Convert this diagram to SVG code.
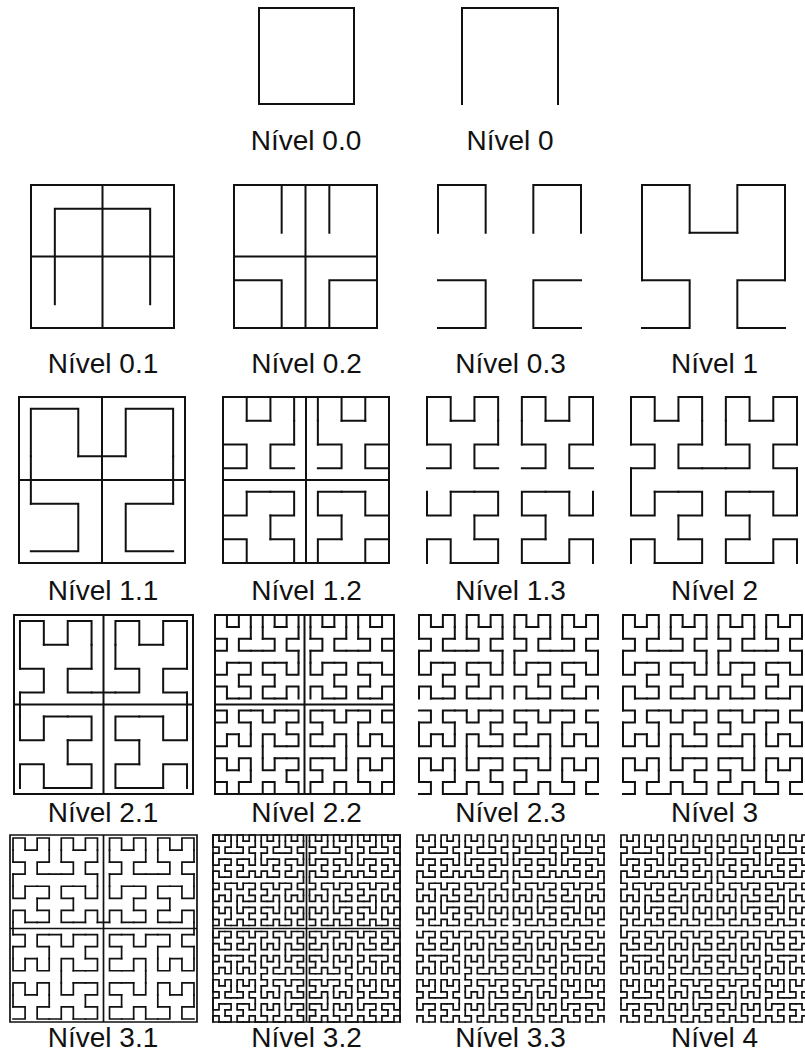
<svg xmlns="http://www.w3.org/2000/svg" width="805" height="1055" viewBox="0 0 805 1055">
<style>
.lbl{font-family:"Liberation Sans",Arial,sans-serif;font-size:28px;fill:#111;text-anchor:middle}
.ln{fill:none;stroke:#111;stroke-linecap:square;stroke-linejoin:miter}
</style>
<defs>
<path id="h1" d="M0 0V1H1V0"/>
<g id="q2">
<use href="#h1" transform="matrix(0 1 1 0 0 0)"/>
<use href="#h1" transform="translate(0 2)"/>
<use href="#h1" transform="translate(2 2)"/>
<use href="#h1" transform="matrix(0 -1 -1 0 3 1)"/>
</g>
<g id="h2"><use href="#q2"/><path d="M0 1V2M1 2H2M3 2V1"/></g>
<g id="q3">
<use href="#h2" transform="matrix(0 1 1 0 0 0)"/>
<use href="#h2" transform="translate(0 4)"/>
<use href="#h2" transform="translate(4 4)"/>
<use href="#h2" transform="matrix(0 -1 -1 0 7 3)"/>
</g>
<g id="h3"><use href="#q3"/><path d="M0 3V4M3 4H4M7 4V3"/></g>
<g id="q4">
<use href="#h3" transform="matrix(0 1 1 0 0 0)"/>
<use href="#h3" transform="translate(0 8)"/>
<use href="#h3" transform="translate(8 8)"/>
<use href="#h3" transform="matrix(0 -1 -1 0 15 7)"/>
</g>
<g id="h4"><use href="#q4"/><path d="M0 7V8M7 8H8M15 8V7"/></g>
<g id="q5">
<use href="#h4" transform="matrix(0 1 1 0 0 0)"/>
<use href="#h4" transform="translate(0 16)"/>
<use href="#h4" transform="translate(16 16)"/>
<use href="#h4" transform="matrix(0 -1 -1 0 31 15)"/>
</g>
<g id="h5"><use href="#q5"/><path d="M0 15V16M15 16H16M31 16V15"/></g>
<path id="fc4" d="M0 0H3V3H0ZM1.5 0V3M0 1.5H3"/>
<path id="fc8" d="M0 0H7V7H0ZM3.5 0V7M0 3.5H7"/>
<path id="fc16" d="M0 0H15V15H0ZM7.5 0V15M0 7.5H15"/>
<path id="fc32" d="M0 0H31V31H0ZM15.5 0V31M0 15.5H31"/>
</defs>
<rect width="805" height="1055" fill="#fff"/>

<g id="nivel-0-0"><rect class="ln" x="259" y="8" width="95" height="96" stroke-width="2"/><text class="lbl" x="306" y="150">Nível 0.0</text></g>
<g id="nivel-0"><path class="ln" d="M462 104V8H558V104" stroke-width="2"/><text class="lbl" x="510" y="150">Nível 0</text></g>

<g id="nivel-0-1"><g class="ln" transform="translate(31 328) scale(47.667 -47.667)" stroke-width="0.042"><use href="#fc4"/><use href="#h1" transform="translate(.5 .5) scale(2)" stroke-width="0.021"/></g><text class="lbl" x="103" y="373">Nível 0.1</text></g>
<g id="nivel-0-2"><g class="ln" transform="translate(234 328) scale(47.667 -47.667)" stroke-width="0.042"><use href="#fc4"/><use href="#q2"/></g><text class="lbl" x="306.5" y="373">Nível 0.2</text></g>
<g id="nivel-0-3"><g class="ln" transform="translate(438 328) scale(47.667 -47.667)" stroke-width="0.042"><use href="#q2"/></g><text class="lbl" x="510.5" y="373">Nível 0.3</text></g>
<g id="nivel-1"><g class="ln" transform="translate(642 328) scale(47.667 -47.667)" stroke-width="0.042"><use href="#h2"/></g><text class="lbl" x="714.5" y="373">Nível 1</text></g>

<g id="nivel-1-1"><g class="ln" transform="translate(19 563) scale(23.714 -23.714)" stroke-width="0.0843"><use href="#fc8"/><use href="#h2" transform="translate(.5 .5) scale(2)" stroke-width="0.0422"/></g><text class="lbl" x="103" y="600">Nível 1.1</text></g>
<g id="nivel-1-2"><g class="ln" transform="translate(223 563) scale(23.714 -23.714)" stroke-width="0.0843"><use href="#fc8"/><use href="#q3"/></g><text class="lbl" x="306.5" y="600">Nível 1.2</text></g>
<g id="nivel-1-3"><g class="ln" transform="translate(427 563) scale(23.714 -23.714)" stroke-width="0.0843"><use href="#q3"/></g><text class="lbl" x="510.5" y="600">Nível 1.3</text></g>
<g id="nivel-2"><g class="ln" transform="translate(631 563) scale(23.714 -23.714)" stroke-width="0.0843"><use href="#h3"/></g><text class="lbl" x="714.5" y="600">Nível 2</text></g>

<g id="nivel-2-1"><g class="ln" transform="translate(14 794) scale(11.933 -11.933)" stroke-width="0.1676"><use href="#fc16"/><use href="#h3" transform="translate(.5 .5) scale(2)" stroke-width="0.0838"/></g><text class="lbl" x="103" y="822">Nível 2.1</text></g>
<g id="nivel-2-2"><g class="ln" transform="translate(215 794) scale(11.933 -11.933)" stroke-width="0.1676"><use href="#fc16"/><use href="#q4"/></g><text class="lbl" x="306.5" y="822">Nível 2.2</text></g>
<g id="nivel-2-3"><g class="ln" transform="translate(419 794) scale(11.933 -11.933)" stroke-width="0.1676"><use href="#q4"/></g><text class="lbl" x="510.5" y="822">Nível 2.3</text></g>
<g id="nivel-3"><g class="ln" transform="translate(623 794) scale(11.933 -11.933)" stroke-width="0.1676"><use href="#h4"/></g><text class="lbl" x="714.5" y="822">Nível 3</text></g>

<g id="nivel-3-1"><g class="ln" transform="translate(10 1022) scale(6.0323 -6.0323)" stroke-width="0.2818"><use href="#fc32"/><use href="#h4" transform="translate(.5 .5) scale(2)" stroke-width="0.1409"/></g><text class="lbl" x="103" y="1047">Nível 3.1</text></g>
<g id="nivel-3-2"><g class="ln" transform="translate(213 1022) scale(6.0323 -6.0323)" stroke-width="0.2818"><use href="#fc32"/><use href="#q5"/></g><text class="lbl" x="306.5" y="1047">Nível 3.2</text></g>
<g id="nivel-3-3"><g class="ln" transform="translate(417 1022) scale(6.0323 -6.0323)" stroke-width="0.2818"><use href="#q5"/></g><text class="lbl" x="510.5" y="1047">Nível 3.3</text></g>
<g id="nivel-4"><g class="ln" transform="translate(621 1022) scale(6.0323 -6.0323)" stroke-width="0.2818"><use href="#h5"/></g><text class="lbl" x="714.5" y="1047">Nível 4</text></g>
</svg>
